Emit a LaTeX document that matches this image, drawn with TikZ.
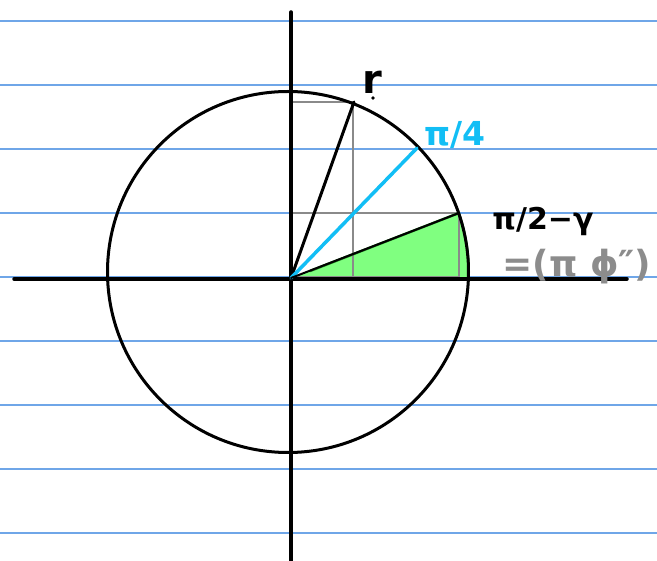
\documentclass[tikz,border=0pt]{standalone}
\usepackage{fontspec}
\newfontfamily\lab{DejaVu Sans}
\definecolor{rule}{HTML}{6FA6E8}
\definecolor{skyb}{HTML}{12BEF5}
\definecolor{grayl}{HTML}{8A8A8A}
\definecolor{lgreen}{HTML}{80FF80}
\definecolor{dgreen}{HTML}{1E7A1E}
\definecolor{glab}{HTML}{8C8C8C}
\begin{document}
\begin{tikzpicture}[x=1pt,y=-1pt,
  ruleline/.style={rule,line width=1.3pt},
  axis/.style={black,line width=3.5pt,line cap=round},
  ink/.style={black,line width=3pt,line cap=round},
  boxline/.style={grayl,line width=2.2pt},
  lbl/.style={inner sep=0pt,font=\lab\bfseries\fontsize{30}{30}\selectfont}]
\useasboundingbox (0,0) rectangle (657,561);
% ruled paper
\foreach \yy in {21,85,149,213,277,341,405,469,533}
  \draw[ruleline] (0,\yy) -- (657,\yy);
% points
\coordinate (O) at (291,278);
\coordinate (C) at (288,272);
\coordinate (P) at (354,102);
\coordinate (Q) at (417,148);
\coordinate (S) at (459,213);
% green wedge
\fill[lgreen] (O) -- (S) arc[start angle={atan2(-59,171)}, end angle={atan2(5,181.5)}, radius=180.5] -- cycle;
% gray boxes
\draw[boxline] (291,102) rectangle (353,277);
\draw[boxline] (291,213) rectangle (459,277);
% green strokes
\draw[dgreen,line width=2.5pt] (310,271) -- (S);
\draw[dgreen,line width=2pt] (S) arc[start angle={atan2(-59,171)}, end angle={atan2(5,181.5)}, radius=180.5];
% axes
\draw[axis] (291,12) -- (291,561);
\draw[axis] (14,279) -- (627,279);
% circle
\draw[ink] (C) circle[radius=180.5];
% rays
\draw[ink] (O) -- (P);
\draw[skyb,line width=3.5pt,line cap=round] (O) -- (Q);
\draw[ink,line width=2pt] (O) -- (S);
% labels
\node[lbl,anchor=base,font=\lab\bfseries\fontsize{40}{40}\selectfont] (lr) at (372,94) {r};
\fill (373,98) circle[radius=1.8pt];
\node[lbl,anchor=base,text=skyb,font=\lab\bfseries\fontsize{33}{33}\selectfont] (lq) at (455,146) {π/4};
\node[lbl,anchor=base] (ls) at (543,230) {π/2−γ};
\node[lbl,anchor=base,text=glab,font=\lab\bfseries\fontsize{36}{36}\selectfont] (lg) at (577,277) {=(π ϕ″)};
\end{tikzpicture}
\end{document}
